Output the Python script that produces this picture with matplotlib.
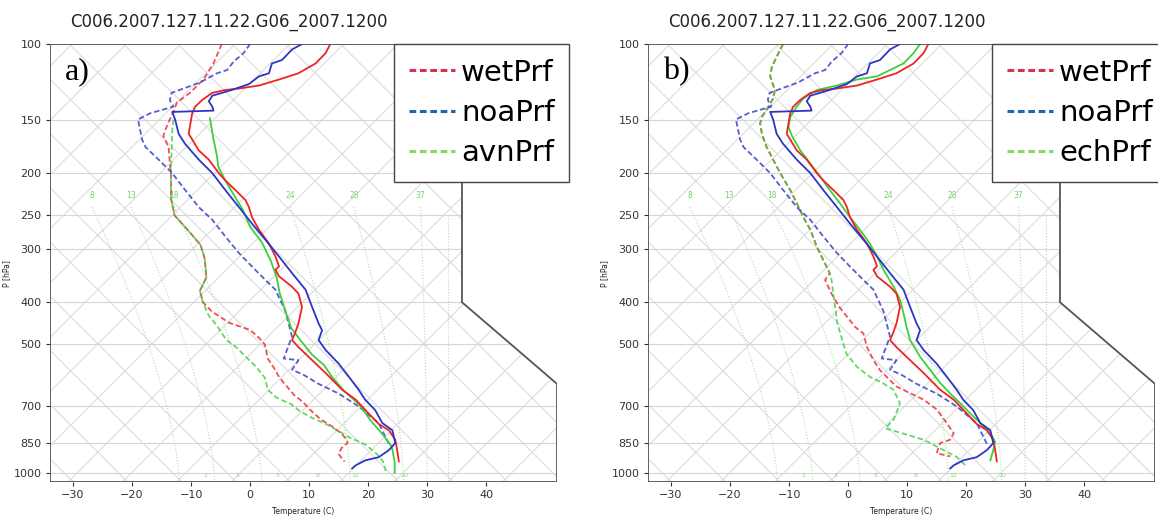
import numpy as np
import matplotlib
matplotlib.use('Agg')
import matplotlib.pyplot as plt
from matplotlib.patches import Polygon
from matplotlib.lines import Line2D
from matplotlib.ticker import NullLocator

title = 'C006.2007.127.11.22.G06_2007.1200'
p_ticks = [100, 150, 200, 250, 300, 400, 500, 700, 850, 1000]
t_ticks = [-30, -20, -10, 0, 10, 20, 30, 40]

# green guide curves, labelled near 225 hPa
guide_labels = ['8', '13', '18', '24', '28', '37']
guide_top = [-26.8, -20.2, -12.9, 6.8, 17.6, 28.9]
guide_bottom = [-12.0, -6.0, 2.0, 17.0, 26.0, 30.0]
# small green labels along 1000 hPa
mix_labels = ['2', '3', '5', '8', '12', '20']
mix_x = [-7.5, -2.2, 4.7, 11.5, 17.9, 26.1]

# profiles: pressure (hPa) and position on the temperature axis
wet_t_p = [100, 105, 111, 117, 121, 125, 127, 128, 130, 135, 140, 145, 153, 162, 167, 177, 186, 200, 208, 219,
           231, 240, 253, 271, 292, 313, 330, 336, 348, 368, 382, 410, 448, 473, 490, 509, 536, 585, 640, 675,
           727, 769, 795, 837, 866, 900, 940]
wet_t_x = [13.6, 12.8, 11.1, 8.2, 4.9, 1.5, -1.9, -4.2, -6.4, -8.1, -9.3, -9.8, -10.1, -10.4, -9.8, -8.7, -7.0, -5.3, -4.2, -2.5,
           -0.8, -0.2, 0.3, 1.5, 3.2, 4.3, 4.9, 4.3, 4.9, 7.1, 8.2, 8.8, 8.2, 7.6, 7.1, 8.2, 9.9, 12.8, 15.6, 17.9,
           20.1, 21.8, 23.5, 24.6, 24.8, 25.0, 25.2]

noa_t_p = [100, 103, 109, 111, 117, 119, 124, 128, 132, 136, 140, 143, 144, 150, 162, 171, 186, 200, 219, 240,
           262, 286, 313, 342, 374, 410, 448, 465, 490, 517, 556, 596, 640, 675, 714, 765, 795, 852, 885, 919,
           935, 960, 976]
noa_t_x = [8.8, 7.1, 5.4, 3.7, 3.2, 1.5, -0.2, -3.1, -6.4, -7.0, -6.4, -6.2, -13.2, -12.7, -12.1, -11.0, -8.7, -6.4, -4.2, -1.9,
           0.3, 2.6, 4.9, 7.1, 9.4, 10.5, 11.6, 12.2, 11.6, 12.8, 15.0, 16.7, 18.4, 19.5, 21.2, 22.4, 24.1, 24.6, 23.5, 21.8,
           19.5, 17.9, 17.3]

noa_td_p = [100, 105, 110, 115, 117, 123, 127, 130, 135, 140, 145, 150, 167, 174, 186, 200, 219, 240, 257, 281,
            307, 330, 355, 374, 420, 481, 541, 546, 575, 590, 620, 653, 700, 766, 855]
noa_td_x = [0.0, -1.1, -2.8, -3.9, -5.6, -8.5, -11.3, -13.3, -13.6, -13.0, -16.9, -19.0, -18.3, -17.7, -15.5, -13.2, -11.0, -8.7, -6.4, -4.2,
            -1.9, 0.3, 2.6, 4.3, 6.0, 7.1, 5.7, 8.2, 7.1, 9.0, 11.6, 15.0, 18.4, 21.8, 23.5]

# panel a
a_wet_td_p = [100, 111, 121, 130, 137, 144, 150, 159, 164, 174, 190, 200, 229, 251, 274, 294, 316, 350, 376, 400,
              420, 447, 464, 484, 502, 541, 568, 600, 635, 659, 684, 709, 751, 781, 810, 841, 851, 875, 904, 941]
a_wet_td_x = [-4.8, -6.2, -7.9, -10.2, -12.4, -13.0, -13.6, -14.4, -14.7, -13.8, -13.6, -13.4, -13.4, -12.8, -10.3, -8.4, -7.7, -7.4, -8.5, -8.0,
              -6.5, -3.5, 0.0, 1.5, 2.5, 3.0, 4.0, 5.0, 6.5, 7.5, 9.0, 10.0, 12.0, 14.0, 15.5, 16.5, 16.5, 15.5, 15.0, 16.0]

avn_t_p = [149, 164, 183, 193, 208, 223, 244, 267, 290, 320, 350, 380, 420, 460, 490, 530, 560, 600, 645, 693,
           757, 814, 868, 941, 1000]
avn_t_x = [-6.8, -6.3, -5.6, -5.4, -4.2, -2.9, -1.2, 0.0, 2.0, 3.5, 4.5, 5.0, 6.0, 7.0, 8.5, 10.5, 12.5, 14.0, 16.0, 18.5,
           20.5, 22.5, 24.0, 24.5, 24.5]

avn_td_p = [150, 160, 180, 200, 229, 251, 274, 294, 316, 350, 376, 400, 430, 450, 490, 510, 540, 565, 600, 640,
            668, 692, 719, 744, 771, 799, 829, 858, 904, 940, 990]
avn_td_x = [-13.0, -13.2, -13.3, -13.4, -13.4, -12.8, -10.3, -8.4, -7.7, -7.4, -8.5, -8.0, -7.0, -5.8, -4.0, -2.3, -0.5, 1.0, 2.5, 3.0,
            4.5, 7.0, 8.5, 10.5, 13.0, 15.0, 17.0, 19.5, 21.5, 22.5, 23.0]

# panel b
b_wet_td_p = [100, 105, 113, 119, 128, 134, 140, 148, 153, 162, 174, 186, 200, 219, 235, 253, 271, 297, 319, 342,
              355, 382, 410, 432, 457, 473, 509, 546, 576, 629, 675, 711, 765, 808, 837, 852, 900, 915]
b_wet_td_x = [-11.0, -11.8, -12.9, -13.2, -12.4, -12.7, -13.5, -14.6, -14.9, -14.6, -13.8, -12.7, -11.5, -9.8, -8.7, -7.6, -6.4, -5.3, -4.2, -3.1,
              -3.9, -2.8, -1.5, -0.2, 1.2, 2.6, 3.2, 4.3, 5.4, 8.2, 12.8, 15.0, 16.7, 17.9, 17.3, 15.6, 15.0, 17.3]

ech_t_p = [100, 105, 111, 115, 119, 121, 125, 128, 134, 140, 148, 156, 164, 177, 190, 204, 219, 235, 253, 271,
           292, 313, 336, 368, 395, 425, 457, 490, 536, 575, 617, 653, 688, 727, 765, 808, 845, 885, 935]
ech_t_x = [12.2, 11.1, 9.4, 7.1, 4.9, 1.5, -1.9, -5.3, -7.6, -8.7, -9.8, -10.1, -9.5, -8.1, -6.4, -4.7, -3.1, -1.4, 0.3, 2.0,
           3.7, 4.9, 6.0, 7.7, 8.8, 9.4, 9.9, 10.5, 12.2, 13.9, 15.6, 17.3, 19.0, 20.7, 22.4, 24.1, 24.9, 24.6, 24.1]

ech_td_p = [100, 105, 113, 119, 128, 134, 140, 148, 153, 162, 174, 186, 200, 219, 235, 253, 271, 297, 319, 342,
            355, 382, 410, 448, 490, 527, 566, 597, 619, 640, 688, 752, 787, 801, 837, 885, 918, 967]
ech_td_x = [-11.0, -11.8, -12.9, -13.2, -12.4, -12.7, -13.5, -14.6, -14.9, -14.6, -13.8, -12.7, -11.5, -9.8, -8.7, -7.6, -6.4, -5.3, -4.2, -3.1,
            -2.8, -2.5, -2.2, -1.8, -1.0, -0.3, 1.5, 3.7, 6.0, 7.7, 8.8, 7.7, 6.3, 8.2, 12.8, 16.2, 18.4, 20.1]

XMIN, XMAX = -33.9, 52.0
PBOT, PTOP = 1050, 100
SKEW = 31.6
frame_x = [XMIN, XMIN, 35.9, 35.9, XMAX, XMAX]
frame_p = [PBOT, PTOP, PTOP, 400, 620, PBOT]

RED = '#ee2424'
BLUE = '#2b35c6'
GREEN = '#3dcf3d'


def draw_panel(ax, letter, profiles, names, leg_colors):
    ax.set_xlim(XMIN, XMAX)
    ax.set_yscale('log')
    ax.set_ylim(PBOT, PTOP)
    for s in ax.spines.values():
        s.set_visible(False)

    frame = Polygon(np.column_stack([frame_x, frame_p]), closed=True, fill=False,
                    edgecolor='#555555', lw=1.3, zorder=10)
    ax.add_patch(frame)

    # skewed crosshatch
    pp = np.geomspace(PTOP, PBOT, 50)
    lnp = np.log(1000.0 / pp)
    for k in range(-15, 22):
        for x0, sign in ((-47.7 + 9.2 * k, 1), (-3.9 + 9.2 * k, -1)):
            ln, = ax.plot(x0 + sign * SKEW * lnp, pp, color='#dcdcdc', lw=0.8, zorder=1)
            ln.set_clip_path(frame)
    for p in p_ticks:
        ln, = ax.plot([XMIN, XMAX], [p, p], color='#d6d6d6', lw=0.8, zorder=1)
        ln.set_clip_path(frame)

    # green guides
    pg = np.geomspace(240, PBOT, 80)
    frac = (np.log(PBOT / pg) / np.log(PBOT / 240)) ** 1.5
    for lab, xt, xb in zip(guide_labels, guide_top, guide_bottom):
        ln, = ax.plot(xb - (xb - xt) * frac, pg, color='#a6e6a0', lw=0.8, ls=':', zorder=2)
        ln.set_clip_path(frame)
        ax.text(xt, 225, lab, color='#6fd66f', fontsize=5.5, ha='center', va='center', zorder=2)
    ln, = ax.plot([33.5, 33.5], [250, PBOT], color='#a6e6a0', lw=0.8, ls=':', zorder=2)
    ln.set_clip_path(frame)
    for lab, xm in zip(mix_labels, mix_x):
        ax.text(xm, 1012, lab, color='#7fd87f', fontsize=4.5, ha='center', va='center', zorder=2)

    for px, py, c, dashed in profiles:
        if dashed:
            ax.plot(px, py, color=c, lw=1.3, ls='--', dashes=(3, 1.6), alpha=0.8, zorder=5)
        else:
            ax.plot(px, py, color=c, lw=1.3, zorder=6)

    ax.set_xticks(t_ticks)
    ax.set_yticks(p_ticks)
    ax.set_yticklabels([str(v) for v in p_ticks])
    ax.yaxis.set_minor_locator(NullLocator())
    ax.tick_params(direction='out', length=3, width=0.8, labelsize=8, colors='#333333', pad=3)
    ax.set_xlabel('Temperature (C)', fontsize=5.5, color='#222222')
    ax.xaxis.set_label_coords(0.5, -0.057)
    ax.set_ylabel('P [hPa]', fontsize=5.5, color='#222222')
    ax.yaxis.set_label_coords(-0.076, 0.477)

    ax.text(0.030, 0.936, letter, transform=ax.transAxes, fontsize=23,
            family='Liberation Serif', va='center', ha='left', zorder=11)

    handles = [Line2D([], [], color=c, lw=2.2, ls='--', dashes=(2.2, 1.2)) for c in leg_colors]
    leg = ax.legend(handles, names, loc='upper left', bbox_to_anchor=(0.6785, 1.0),
                    borderaxespad=0, fontsize=21, handlelength=1.6, handletextpad=0.2,
                    labelspacing=0.42, borderpad=0.5, fancybox=False, edgecolor='#444444',
                    framealpha=1)
    leg.get_frame().set_linewidth(1.0)
    leg.set_zorder(12)


if __name__ == "__main__":
    fig = plt.figure(figsize=(11.58, 5.17), dpi=100)
    ax_a = fig.add_axes([50 / 1158, 1 - 482 / 517, 507 / 1158, 438 / 517])
    ax_b = fig.add_axes([648 / 1158, 1 - 482 / 517, 507 / 1158, 438 / 517])

    prof_a = [
        (a_wet_td_x, a_wet_td_p, RED, True),
        (avn_td_x, avn_td_p, GREEN, True),
        (noa_td_x, noa_td_p, BLUE, True),
        (avn_t_x, avn_t_p, GREEN, False),
        (wet_t_x, wet_t_p, RED, False),
        (noa_t_x, noa_t_p, BLUE, False),
    ]
    prof_b = [
        (b_wet_td_x, b_wet_td_p, RED, True),
        (ech_td_x, ech_td_p, GREEN, True),
        (noa_td_x, noa_td_p, BLUE, True),
        (ech_t_x, ech_t_p, GREEN, False),
        (wet_t_x, wet_t_p, RED, False),
        (noa_t_x, noa_t_p, BLUE, False),
    ]
    leg_colors = ['#d8304f', '#2166ac', '#86d965']
    draw_panel(ax_a, 'a)', prof_a, ['wetPrf', 'noaPrf', 'avnPrf'], leg_colors)
    draw_panel(ax_b, 'b)', prof_b, ['wetPrf', 'noaPrf', 'echPrf'], leg_colors)

    fig.text(70 / 1158, 1 - 22 / 517, title, fontsize=12, color='#222222', ha='left', va='center')
    fig.text(668 / 1158, 1 - 22 / 517, title, fontsize=12, color='#222222', ha='left', va='center')

    fig.savefig('out.png', dpi=100)
